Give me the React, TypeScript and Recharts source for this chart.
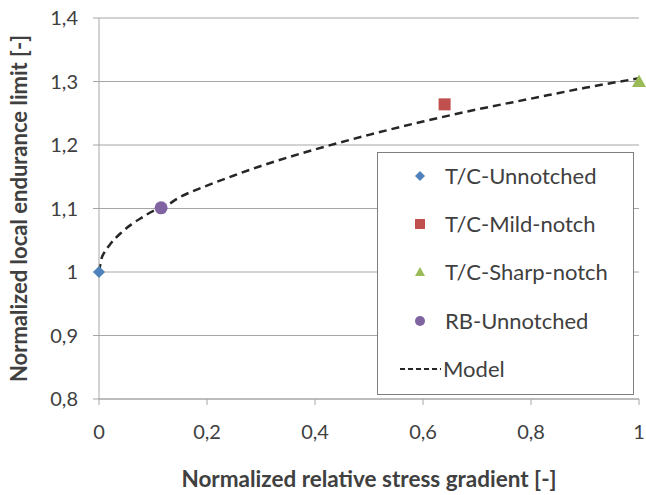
import React from "react";
import {
  ComposedChart,
  Scatter,
  Line,
  XAxis,
  YAxis,
  CartesianGrid,
} from "recharts";

// measured points
const tcUnnotched = [{ x: 0, y: 1.0 }];
const tcMild = [{ x: 0.64, y: 1.264 }];
const tcSharp = [{ x: 1.0, y: 1.3 }];
const rbUnnotched = [{ x: 0.115, y: 1.101 }];

// model curve
const modelX = [0, 0.005, 0.01, 0.02, 0.04, 0.06, 0.08, 0.1, 0.115, 0.15, 0.2, 0.25, 0.3, 0.4, 0.5, 0.6, 0.7, 0.8, 0.9, 1.0];
const modelY = [1.0, 1.022, 1.031, 1.043, 1.061, 1.075, 1.086, 1.096, 1.1, 1.118, 1.136, 1.152, 1.167, 1.193, 1.216, 1.237, 1.256, 1.273, 1.29, 1.305];

const xTicks = [0, 0.2, 0.4, 0.6, 0.8, 1];
const yTicks = [0.8, 0.9, 1, 1.1, 1.2, 1.3, 1.4];

const legendNames = ["T/C-Unnotched", "T/C-Mild-notch", "T/C-Sharp-notch", "RB-Unnotched", "Model"];

const BLUE = "#4F81BD";
const RED = "#C0504D";
const GREEN = "#9BBB59";
const PURPLE = "#8064A2";
const TEXT = "#404040";
const FONT = "Lato, 'Open Sans', sans-serif";

const modelData = modelX.map((x, i) => ({ x, y: modelY[i] }));

const fmt = (v: number) => String(v).replace(".", ",");

function Diamond({ cx, cy, r = 6, fill }: any) {
  return <path d={`M${cx},${cy - r}L${cx + r},${cy}L${cx},${cy + r}L${cx - r},${cy}Z`} fill={fill} />;
}
function Square({ cx, cy, r = 6, fill }: any) {
  return <rect x={cx - r} y={cy - r} width={r * 2} height={r * 2} fill={fill} />;
}
function Triangle({ cx, cy, r = 6, fill }: any) {
  return <path d={`M${cx},${cy - r}L${cx + r},${cy + r * 0.8}L${cx - r},${cy + r * 0.8}Z`} fill={fill} />;
}
function Dot({ cx, cy, r = 6, fill }: any) {
  return <circle cx={cx} cy={cy} r={r} fill={fill} />;
}

const markers = [
  (p: any) => <Diamond {...p} />,
  (p: any) => <Square {...p} />,
  (p: any) => <Triangle {...p} />,
  (p: any) => <Dot {...p} />,
];
const colors = [BLUE, RED, GREEN, PURPLE];

function LegendBox() {
  const rowY = [24, 72, 120, 169, 217];
  return (
    <svg width={258} height={244} style={{ display: "block" }}>
      <rect x={0.5} y={0.5} width={256} height={242} fill="#fff" stroke="#7f7f7f" strokeWidth={1} />
      {legendNames.map((name, i) => (
        <g key={name}>
          {i < 4
            ? markers[i]({ cx: 43, cy: rowY[i], r: 5, fill: colors[i] })
            : <line x1={23} x2={64} y1={rowY[i]} y2={rowY[i]} stroke="#262626" strokeWidth={2} strokeDasharray="5 3" />}
          <text x={i < 4 ? 68 : 66} y={rowY[i]} dy="0.35em" fontSize={22} fill={TEXT} fontFamily={FONT}>
            {name}
          </text>
        </g>
      ))}
    </svg>
  );
}

export default function App() {
  return (
    <div style={{ position: "absolute", left: 0, top: 0, width: 646, height: 495, background: "#fff" }}>
      <ComposedChart
        width={646}
        height={495}
        margin={{ top: 18, right: 7, left: 0, bottom: 0 }}
        style={{ fontFamily: FONT }}
      >
        <CartesianGrid stroke="#a6a6a6" vertical={false} />
        <XAxis
          type="number"
          dataKey="x"
          domain={[0, 1]}
          ticks={xTicks}
          tickFormatter={fmt}
          height={96}
          stroke="#a6a6a6"
          tickSize={6}
          tickMargin={20}
          tick={{ fontSize: 20, fill: TEXT }}
          label={{
            content: ({ viewBox }: any) => (
              <text
                x={viewBox.x + viewBox.width / 2}
                y={481}
                textAnchor="middle"
                dominantBaseline="middle"
                fontSize={22.5}
                fontWeight="bold"
                fill={TEXT}
                fontFamily={FONT}
              >
                Normalized relative stress gradient [-]
              </text>
            ),
          }}
        />
        <YAxis
          type="number"
          dataKey="y"
          domain={[0.8, 1.4]}
          ticks={yTicks}
          tickFormatter={fmt}
          width={99}
          stroke="#a6a6a6"
          tickSize={6}
          tickMargin={15}
          tick={{ fontSize: 20, fill: TEXT }}
          label={{
            content: ({ viewBox }: any) => {
              const cy = viewBox.y + viewBox.height / 2;
              return (
                <text
                  x={21}
                  y={cy}
                  transform={`rotate(-90, 21, ${cy})`}
                  textAnchor="middle"
                  dominantBaseline="middle"
                  fontSize={22}
                  fontWeight="bold"
                  fill={TEXT}
                  fontFamily={FONT}
                >
                  Normalized local endurance limit [-]
                </text>
              );
            },
          }}
        />
        <Line
          data={modelData}
          dataKey="y"
          type="monotone"
          stroke="#262626"
          strokeWidth={2.5}
          strokeDasharray="8 5"
          dot={false}
          activeDot={false}
          isAnimationActive={false}
          legendType="none"
        />
        <Scatter data={tcUnnotched} dataKey="y" fill={BLUE} shape={(p: any) => <Diamond {...p} r={6} fill={BLUE} />} isAnimationActive={false} />
        <Scatter data={tcMild} dataKey="y" fill={RED} shape={(p: any) => <Square {...p} r={6} fill={RED} />} isAnimationActive={false} />
        <Scatter data={tcSharp} dataKey="y" fill={GREEN} shape={(p: any) => <Triangle {...p} r={7} fill={GREEN} />} isAnimationActive={false} />
        <Scatter data={rbUnnotched} dataKey="y" fill={PURPLE} shape={(p: any) => <Dot {...p} r={6.5} fill={PURPLE} />} isAnimationActive={false} />
      </ComposedChart>
      <div style={{ position: "absolute", left: 377, top: 152 }}>
        <LegendBox />
      </div>
    </div>
  );
}
